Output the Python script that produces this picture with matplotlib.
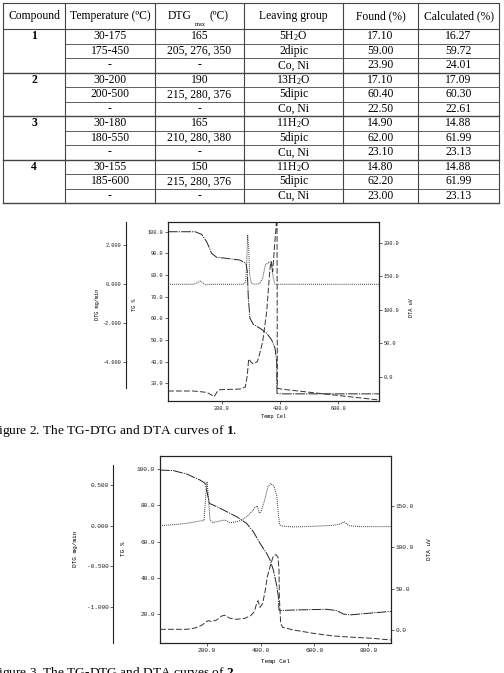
import matplotlib.pyplot as plt

plt.rcParams['mathtext.fontset'] = 'custom'
plt.rcParams['mathtext.rm'] = 'Liberation Serif'
plt.rcParams['mathtext.it'] = 'Liberation Serif:italic'
plt.rcParams['mathtext.bf'] = 'Liberation Serif:bold'

# table of decomposition steps
headers = ['Compound', 'Temperature (ºC)', '', 'Leaving group', 'Found (%)', 'Calculated (%)']
compounds = ['1', '2', '3', '4']
temp_range = ['30-175', '175-450', '-', '30-200', '200-500', '-',
              '30-180', '180-550', '-', '30-155', '185-600', '-']
dtg_max = ['165', '205, 276, 350', '-', '190', '215, 280, 376', '-',
           '165', '210, 280, 380', '-', '150', '215, 280, 376', '-']
leaving = ['5H$_2$O', '2dipic', 'Co, Ni', '13H$_2$O', '5dipic', 'Co, Ni',
           '11H$_2$O', '5dipic', 'Cu, Ni', '11H$_2$O', '5dipic', 'Cu, Ni']
found = ['17.10', '59.00', '23.90', '17.10', '60.40', '22.50',
         '14.90', '62.00', '23.10', '14.80', '62.20', '23.00']
calc = ['16.27', '59.72', '24.01', '17.09', '60.30', '22.61',
        '14.88', '61.99', '23.13', '14.88', '61.99', '23.13']

# compound 1 curves
t1_tg = [16, 108.6, 131.4, 148.6, 165.7, 182.9, 217.1, 262.9, 283.4, 288, 291.4, 297.1,
         308.6, 331.4, 354.3, 371.4, 382.9, 388.6, 389.7, 400, 739]
tg1 = [100, 100, 98.8, 95.4, 90, 88.2, 87.7, 86.9, 85.4, 81.5, 69.2, 60,
       57.2, 55.4, 53.1, 50, 46.2, 40, 25.4, 25.1, 25.1]
t1_dta = [16, 102.9, 148.6, 165.7, 173.7, 185.1, 194.3, 262.9, 281.1, 288, 292.6, 299.4,
          308.6, 322.3, 329.1, 340.6, 354.3, 365.7, 370.3, 374.9, 380.6, 387.4, 389.7,
          390.9, 411.4, 739]
dta1 = [-21.4, -21.4, -23.4, -27.4, -29.9, -22.4, -19.4, -18.4, -15.4, 2.5, 26.4, 22.4,
        18.9, 22.4, 32.3, 52.2, 97, 161.7, 171.6, 156.7, 191.5, 228.9, 241,
        -17.4, -18.9, -34.8]
t1_dtg = [16, 102.9, 116.6, 125.7, 134.9, 144, 165.7, 274.3, 282.3, 285.7, 289.1, 292.6,
          296, 301.7, 314.3, 329.1, 340.6, 349.7, 358.9, 365.7, 371.4, 377.1, 382.9, 739]
dtg1 = [0, 0, 0.07, 0.17, 0.09, -0.03, 0, 0, 0.14, 0.99, 2.53, 1.85,
        0.48, 0.05, 0, 0.03, 0.31, 0.99, 1.11, 1.16, 0.91, 0.31, 0, 0]

# compound 2 curves
t2_tg = [26.8, 76.3, 125.8, 175.3, 193.8, 202.5, 209.9, 237.1, 274.2, 311.3, 348.4, 373.2,
         397.9, 422.6, 435, 447.4, 459.7, 465.9, 468.4, 472.1, 521.6, 645.3, 682.4,
         707.1, 731.9, 830.8, 884]
tg2 = [99.6, 99.3, 97.4, 94.1, 92.3, 86.7, 81.2, 79.4, 76.6, 73.8, 70.1, 65.5,
       59.1, 53.5, 49.9, 44.3, 35.9, 29.7, 22.2, 21.9, 22.2, 22.6, 21.9,
       20, 19.5, 20.8, 21.4]
t2_dtg = [26.8, 88.7, 125.8, 175.3, 190.1, 196.3, 201.2, 206.2, 212.4, 222.3, 249.5, 268,
          286.6, 311.3, 329.9, 348.4, 367, 379.3, 388, 395.4, 402.8, 415.2, 427.6,
          437.5, 449.8, 459.7, 465.9, 470.9, 479.5, 521.6, 595.8, 670, 694.8, 710.8,
          726.9, 769, 884]
dtg2 = [0, 0.016, 0.029, 0.058, 0.062, 0.358, 0.544, 0.358, 0.07, 0.037, 0.058, 0.07,
        0.037, 0.049, 0.07, 0.111, 0.173, 0.227, 0.243, 0.152, 0.185, 0.317, 0.482,
        0.523, 0.482, 0.379, 0.152, 0.008, -0.004, -0.016, -0.008, 0.004, 0.021, 0.049,
        0, -0.012, -0.012]
t2_dta = [26.8, 125.8, 156.7, 181.4, 197.5, 206.2, 218.6, 237.1, 255.7, 268, 286.6, 311.3,
          342.2, 363.3, 376.9, 385.5, 390.5, 397.9, 407.8, 417.7, 425.1, 435, 447.4,
          457.3, 464.7, 468.4, 469.6, 474.6, 482, 521.6, 595.8, 670, 744.2, 818.4, 884]
dta2 = [0.8, 0.8, 2.4, 5.6, 9.7, 11.3, 10.1, 12.1, 16.9, 17.7, 14.1, 12.9,
        14.1, 17.3, 22.1, 32.2, 35.4, 27.3, 32.2, 48.3, 64.3, 76.4, 89.3,
        90.9, 87.7, 72.4, 40.2, 8, 3.2, 0, -4, -7.2, -8.8, -10.1, -12.1]

W, H = 504, 673
fig = plt.figure(figsize=(W / 100, H / 100), dpi=100)

# --- table drawn on a pixel-space axes ---
tab = fig.add_axes([0, 0, 1, 1])
tab.set_xlim(0, W)
tab.set_ylim(H, 0)
tab.axis('off')
serif = 'Liberation Serif'
col_edges = [3, 65, 155, 244, 343, 418, 499]
top, head_bot, row_h = 3, 29, 14.5
n_rows = len(temp_range)
bottom = head_bot + n_rows * row_h
lc = '#444444'
for x in col_edges:
    tab.plot([x, x], [top, bottom], color=lc, lw=0.8)
tab.plot([3, 499], [top, top], color=lc, lw=0.8)
tab.plot([3, 499], [head_bot, head_bot], color=lc, lw=0.8)
for k in range(1, n_rows + 1):
    y = head_bot + k * row_h
    x0 = 3 if k % 3 == 0 else 65
    tab.plot([x0, 499], [y, y], color=lc, lw=1.0 if k % 3 == 0 else 0.6)

centers = [(col_edges[i] + col_edges[i + 1]) / 2 for i in range(6)]
fs = 8.4
for i, h in enumerate(headers):
    tab.text(centers[i], 16, h, ha='center', va='center', fontsize=fs, family=serif)
tab.text(180, 16, 'DTG', ha='center', va='center', fontsize=fs, family=serif)
tab.text(219, 16, '(ºC)', ha='center', va='center', fontsize=fs, family=serif)
tab.text(200, 24, 'max', ha='center', va='center', fontsize=4.6, family=serif)
for r in range(n_rows):
    y = head_bot + (r + 0.5) * row_h
    if r % 3 == 0:
        tab.text(centers[0], y, compounds[r // 3], ha='center', va='center',
                 fontsize=fs, family=serif, weight='bold')
    for c, vals in enumerate([temp_range, dtg_max, leaving, found, calc]):
        tab.text(centers[c + 1], y, vals[r], ha='center', va='center', fontsize=fs, family=serif)

# captions
tab.text(-9, 434, 'Figure 2. The TG-DTG and DTA curves of $\\mathbf{1}$.',
         ha='left', va='baseline', fontsize=9.6, family=serif)
tab.text(-9, 676, 'Figure 3. The TG-DTG and DTA curves of $\\mathbf{2}$.',
         ha='left', va='baseline', fontsize=9.6, family=serif)

mono = 'Liberation Mono'
tg_style = (0, (10, 1.2, 1.2, 1.2))
dta_style = (0, (6, 2.2))
dtg_style = (0, (1, 1.1))


def thermo_panel(px_box, xlim, tg_lim, dta_lim, dtg_lim, dtg_span, dtg_out,
                 xticks, tg_ticks, dta_ticks, dtg_ticks, fsz, label_pos, data):
    l, r, t, b = px_box
    ax = fig.add_axes([l / W, 1 - b / H, (r - l) / W, (b - t) / H])
    ax2 = ax.twinx()
    ax3 = ax.twinx()
    (tt, tg), (td, dta), (tg_t, dtg) = data
    ax.plot(tt, tg, color='#222222', lw=0.7, ls=tg_style)
    ax2.plot(td, dta, color='#333333', lw=0.7, ls=dta_style)
    ax3.plot(tg_t, dtg, color='#333333', lw=0.7, ls=dtg_style)
    ax.set_xlim(*xlim)
    ax.set_ylim(*tg_lim)
    ax2.set_ylim(*dta_lim)
    ax3.set_ylim(*dtg_lim)
    ax.set_xticks(xticks)
    ax.set_xticklabels([f'{v:.1f}' for v in xticks])
    ax.set_yticks(tg_ticks)
    ax.set_yticklabels([f'{v:.1f}' for v in tg_ticks])
    ax2.set_yticks(dta_ticks)
    ax2.set_yticklabels([f'{v:.1f}' for v in dta_ticks])
    ax3.set_yticks(dtg_ticks)
    ax3.set_yticklabels([f'{v:.3f}' for v in dtg_ticks])
    ax3.yaxis.set_ticks_position('left')
    ax3.yaxis.set_label_position('left')
    for s in ['right', 'top', 'bottom']:
        ax3.spines[s].set_visible(False)
    ax3.spines['left'].set_position(('outward', dtg_out))
    ax3.spines['left'].set_bounds(*dtg_span)
    for a in (ax, ax2, ax3):
        a.tick_params(labelsize=fsz, length=2, width=0.5, pad=1.5, colors='#222222')
        for s in a.spines.values():
            s.set_linewidth(0.8)
            s.set_color('#222222')
        for lab in a.get_xticklabels() + a.get_yticklabels():
            lab.set_family(mono)
    (xl, yl), (tgx, tgy), (dtgx, dtgy), (dtax, dtay) = label_pos
    ax.set_xlabel('Temp Cel', fontsize=fsz, family=mono)
    ax.xaxis.set_label_coords(xl, yl)
    ax.set_ylabel('TG %', fontsize=fsz, family=mono)
    ax.yaxis.set_label_coords(tgx, tgy)
    ax3.set_ylabel('DTG mg/min', fontsize=fsz, family=mono)
    ax3.yaxis.set_label_coords(dtgx, dtgy)
    ax2.set_ylabel('DTA uV', fontsize=fsz, family=mono)
    ax2.yaxis.set_label_coords(dtax, dtay)


thermo_panel((168, 379, 222, 401), (16, 739.4), (21.8, 104.5), (-36.3, 230.8),
             (-5.98, 3.19), (-5.33, 3.19), 30.2,
             [200, 400, 600], [100, 90, 80, 70, 60, 50, 40, 30],
             [200, 150, 100, 50, 0], [2, 0, -2, -4], 3.8,
             [(0.5, -0.075), (-0.147, 0.536), (-0.322, 0.54), (1.142, 0.52)],
             [(t1_tg, tg1), (t1_dta, dta1), (t1_dtg, dtg1)])

thermo_panel((160, 391, 455.5, 643), (26.8, 884), (3.96, 107.65), (-15.7, 210.5),
             (-1.45, 0.867), (-1.45, 0.75), 33.6,
             [200, 400, 600, 800], [100, 80, 60, 40, 20],
             [150, 100, 50, 0], [0.5, 0, -0.5, -1.0], 4.4,
             [(0.5, -0.085), (-0.147, 0.5), (-0.355, 0.5), (1.156, 0.5)],
             [(t2_tg, tg2), (t2_dta, dta2), (t2_dtg, dtg2)])

fig.savefig('out.png', dpi=100, facecolor='white')
